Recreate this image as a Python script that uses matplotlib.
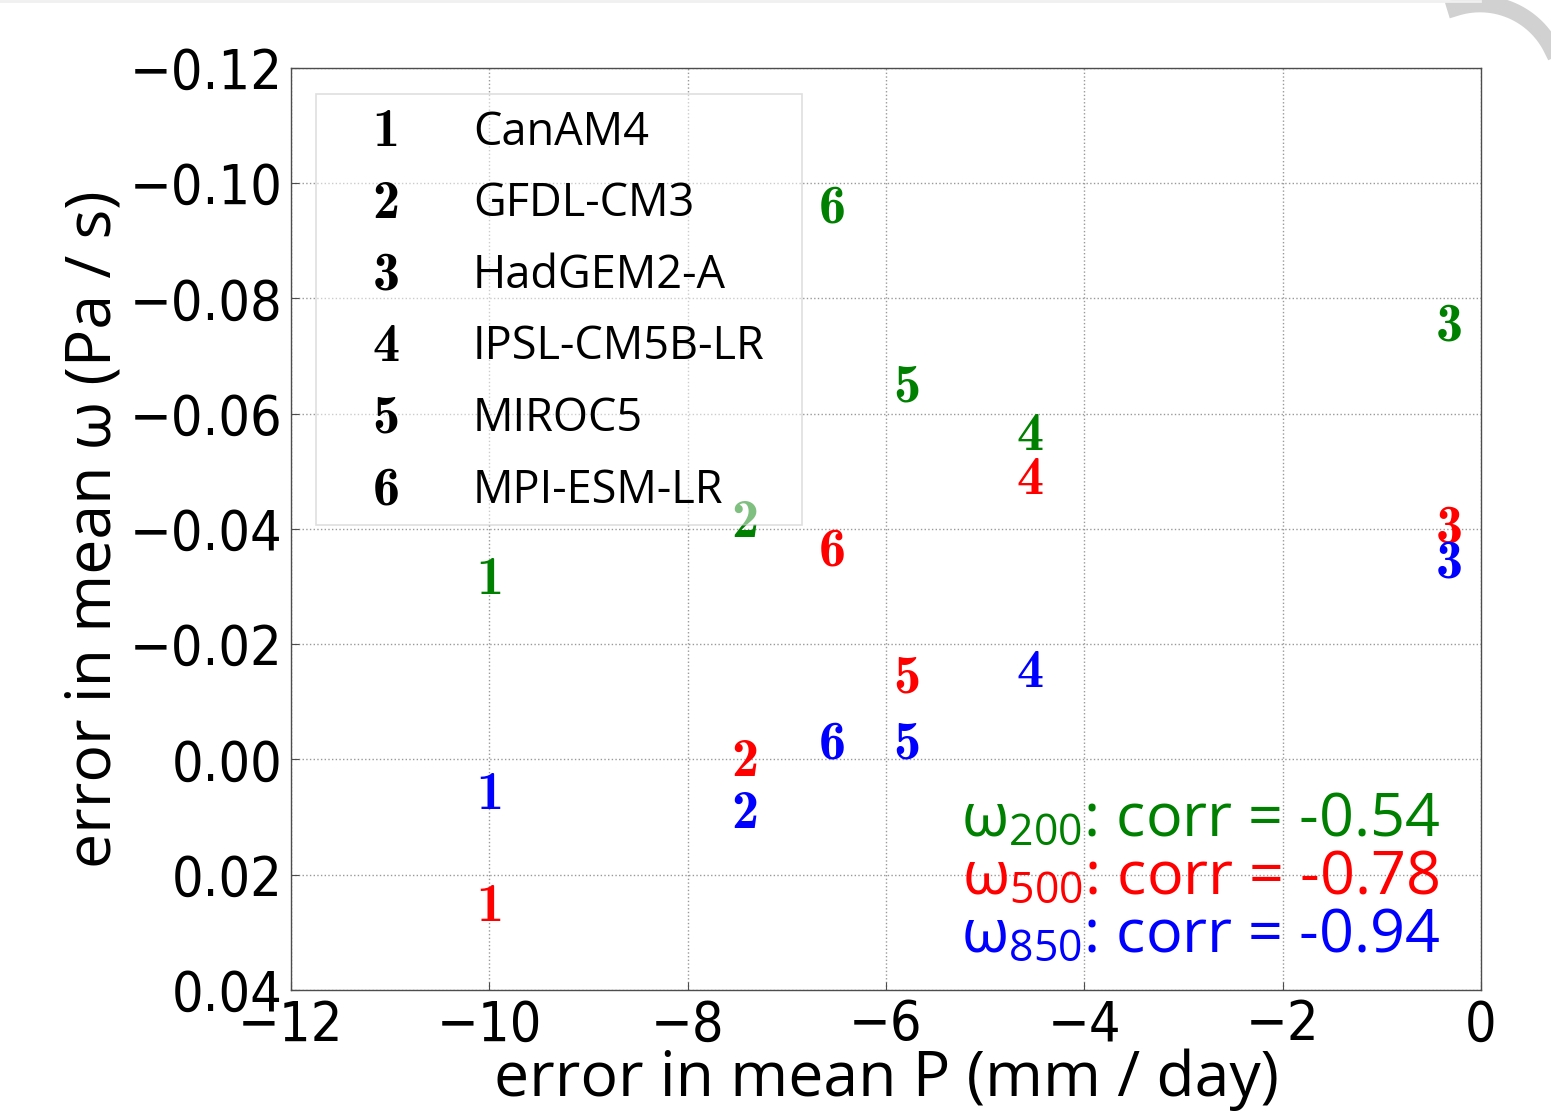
import numpy as np
import matplotlib

matplotlib.use("Agg")
matplotlib.rcParams["mathtext.fontset"] = "cm"
import matplotlib.pyplot as plt
from matplotlib.patches import Rectangle

MODELS = ["CanAM4", "GFDL-CM3", "HadGEM2-A", "IPSL-CM5B-LR", "MIROC5", "MPI-ESM-LR"]
PRECIP_ERR = [-10.0, -7.42, -0.32, -4.55, -5.79, -6.545]
OMEGA200 = [-0.031, -0.041, -0.075, -0.056, -0.0645, -0.0955]
OMEGA500 = [0.0256, 0.0006, -0.040, -0.0485, -0.014, -0.036]
OMEGA850 = [0.0063, 0.0095, -0.034, -0.015, -0.0025, -0.0025]
CORR = {"200": -0.54, "500": -0.78, "850": -0.94}
COLORS = {"200": "green", "500": "red", "850": "blue"}

XTICKS = [-12, -10, -8, -6, -4, -2, 0]
YTICKS = [-0.12, -0.10, -0.08, -0.06, -0.04, -0.02, 0.00, 0.02, 0.04]

TICKFONT = ["DejaVu Sans"]
LABELFONT = ["Open Sans", "DejaVu Sans"]
NUMFONT = ["cmb10", "DejaVu Serif"]


def main():
    fig = plt.figure(figsize=(15.51, 11.16), dpi=100)
    ax = fig.add_axes([0.1876, 0.1129, 0.9549 - 0.1876, 0.9391 - 0.1129])

    series = {"200": OMEGA200, "500": OMEGA500, "850": OMEGA850}
    for level, values in series.items():
        for i, (x, y) in enumerate(zip(PRECIP_ERR, values)):
            ax.text(x, y, str(i + 1), color=COLORS[level], family=NUMFONT,
                    fontsize=39, ha="center", va="center", zorder=2)

    ax.set_xlim(-12, 0)
    ax.set_ylim(0.04, -0.12)
    ax.set_xticks(XTICKS)
    ax.set_yticks(YTICKS)
    ax.set_xticklabels(["\u2212%d" % abs(t) if t else "0" for t in XTICKS],
                       family=TICKFONT, fontstretch="condensed", fontsize=40)
    ax.set_yticklabels([("\u2212%.2f" % abs(t)) if t < 0 else "%.2f" % t for t in YTICKS],
                       family=TICKFONT, fontstretch="condensed", fontsize=40)
    ax.tick_params(direction="in", length=6, width=0.8, color="0.3", pad=6)
    ax.grid(True, linestyle=":", color="0.6", linewidth=1.0)
    for s in ax.spines.values():
        s.set_color("0.3")
        s.set_linewidth(1.0)

    ax.set_xlabel("error in mean P (mm / day)", family=LABELFONT, fontsize=45)
    ax.set_ylabel("error in mean \u03c9 (Pa / s)", family=LABELFONT, fontsize=45)
    ax.xaxis.set_label_coords(0.5, -0.063)
    ax.yaxis.set_label_coords(-0.139, 0.5)

    # legend box with model numbers and names
    ax.add_patch(Rectangle((0.021, 0.504), 0.408, 0.468, transform=ax.transAxes,
                           facecolor="white", edgecolor="0.75", alpha=0.5,
                           linewidth=1.2, zorder=3))
    for i, name in enumerate(MODELS):
        yy = 0.930 - i * 0.0777
        ax.text(0.080, yy, str(i + 1), transform=ax.transAxes, family=NUMFONT,
                fontsize=39, ha="center", va="center", color="black", zorder=4)
        ax.text(0.153, yy, name, transform=ax.transAxes, family=LABELFONT,
                fontsize=32.5, ha="left", va="center", color="black", zorder=4)

    for j, (level, r) in enumerate(CORR.items()):
        ax.text(0.965, 0.185 - j * 0.063,
                r"$\mathregular{\omega_{%s}}$: corr = %.2f" % (level, r),
                transform=ax.transAxes, family=LABELFONT, fontsize=44,
                ha="right", va="center", color=COLORS[level], zorder=4)

    # rounded slide corner in the top right
    t = np.linspace(0, np.pi * 0.6, 60)
    cx, cy, rad = 1480, 1116 - 84, 80
    fig.add_artist(plt.Line2D((cx + rad * np.cos(t)) / 1551, (cy + rad * np.sin(t)) / 1116,
                              transform=fig.transFigure, color="0.82", linewidth=12))
    fig.add_artist(plt.Line2D([0, 1480 / 1551], [0.999, 0.999],
                              transform=fig.transFigure, color="0.94", linewidth=2))

    fig.savefig("out.png", dpi=100)


if __name__ == "__main__":
    main()
